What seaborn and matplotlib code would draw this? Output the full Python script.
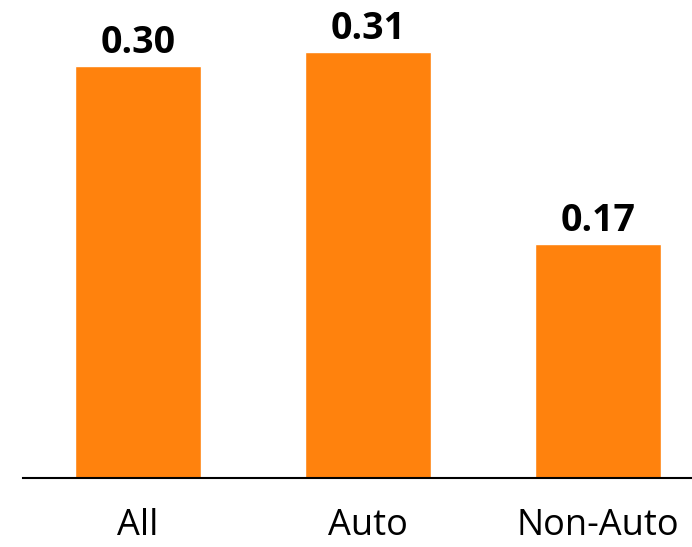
import matplotlib
matplotlib.use("Agg")
import matplotlib.pyplot as plt
import seaborn as sns
import pandas as pd

categories = ["All", "Auto", "Non-Auto"]
values = [0.30, 0.31, 0.17]
labels = ["0.30", "0.31", "0.17"]

df = pd.DataFrame({"cat": categories, "val": values})

sns.set_theme(style="white")
plt.rcParams['font.family'] = ['Open Sans', 'DejaVu Sans']

fig = plt.figure(figsize=(6.92, 5.47), dpi=100)
ax = fig.add_axes([23/692, (547-477.7)/547, 1 - 23/692, 477.7/547])
sns.barplot(data=df, x="cat", y="val", color="#FF820D", width=0.548, ax=ax, saturation=1)

for i, (v, t) in enumerate(zip(values, labels)):
    ax.text(i, v + 0.003, t, ha="center", va="bottom", fontsize=27, fontweight="bold", color="black")

ax.set_xlim(-0.5, 2.409)
ax.set_ylim(0, 0.348)
ax.set_xlabel("")
ax.set_ylabel("")
ax.set_yticks([])
for s in ["top", "right", "left"]:
    ax.spines[s].set_visible(False)
ax.spines["bottom"].set_color("black")
ax.spines["bottom"].set_linewidth(1.5)
ax.tick_params(axis="x", length=0, labelsize=26, pad=22, colors="black")

fig.savefig("out.png", dpi=100)
